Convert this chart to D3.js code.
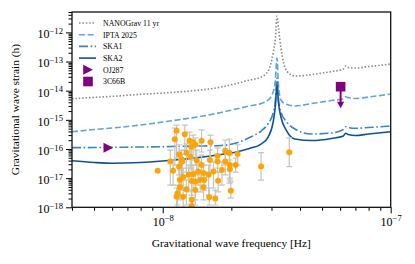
<!DOCTYPE html>
<html>
<head>
<meta charset="utf-8">
<script src="https://cdn.jsdelivr.net/npm/d3@7"></script>
<style>
body { margin: 0; background: #fff; }
svg { display: block; font-family: "Liberation Serif", "DejaVu Serif", serif; }
</style>
</head>
<body>
<div id="chart"></div>
<script>
const width = 415, height = 264
const margin = {top: 12, right: 24.3, bottom: 56.7, left: 72}

// sensitivity curves (frequency in Hz, characteristic strain)
const curveFreq = [4e-9, 5e-9, 6e-9, 8e-9, 1e-8, 1.2e-8, 1.5e-8, 1.8e-8, 2.1e-8, 2.4e-8, 2.7e-8, 2.9e-8,
    3.05e-8, 3.12e-8, 3.17e-8, 3.22e-8, 3.3e-8, 3.5e-8, 3.8e-8, 4.5e-8, 5.5e-8, 6.2e-8, 6.34e-8, 6.5e-8, 7e-8, 8e-8, 1e-7]
const nanograv = [5.29e-15, 5.91e-15, 6.40e-15, 7.49e-15, 8.30e-15, 9.20e-15, 1.08e-14, 1.33e-14, 1.76e-14, 2.32e-14, 2.94e-14, 4.71e-14,
    1.95e-13, 6.38e-13, 3.62e-12, 1.40e-12, 2.89e-13, 4.71e-14, 3.18e-14, 3.57e-14, 4.53e-14, 5.52e-14, 6.99e-14, 6.21e-14, 5.97e-14, 6.72e-14, 8.19e-14]
const ipta = [3.91e-16, 4.65e-16, 5.24e-16, 6.64e-16, 8.41e-16, 1.03e-15, 1.35e-15, 1.78e-15, 2.35e-15, 2.98e-15, 3.62e-15, 4.78e-15,
    8.98e-15, 2.32e-14, 1.32e-13, 1.56e-14, 4.78e-15, 3.35e-15, 2.98e-15, 3.62e-15, 4.59e-15, 5.38e-15, 6.20e-15, 5.82e-15, 5.38e-15, 6.05e-15, 7.67e-15]
const ska1 = [1.11e-16, 1.12e-16, 1.14e-16, 1.17e-16, 1.20e-16, 1.24e-16, 1.27e-16, 1.32e-16, 1.60e-16, 2.47e-16, 4.13e-16, 7.47e-16,
    1.71e-15, 4.41e-15, 2.71e-14, 4.78e-15, 1.85e-15, 8.41e-16, 4.84e-16, 3.26e-16, 3.53e-16, 4.65e-16, 5.81e-16, 5.45e-16, 5.12e-16, 5.45e-16, 6.13e-16]
const ska2 = [3.96e-17, 3.44e-17, 3.23e-17, 3.44e-17, 3.87e-17, 4.36e-17, 5.31e-17, 6.47e-17, 7.88e-17, 1.04e-16, 1.48e-16, 2.57e-16,
    8.41e-16, 2.98e-15, 1.56e-14, 3.77e-15, 1.25e-15, 4.13e-16, 2.20e-16, 1.95e-16, 2.29e-16, 2.79e-16, 3.45e-16, 3.14e-16, 2.90e-16, 3.26e-16, 3.91e-16]

// candidate sources (orange) with error bars, frequency in nHz
const cwFreq = [11.5, 11.3, 12.5, 13.1, 13.6, 14.8, 16.2, 13.9, 13.4, 11.8, 12.7, 13.2, 12.1, 12.2, 10.8, 11.1, 9.5, 11.8, 14.1, 14.8,
    16.1, 17.4, 18.8, 19.6, 21.3, 18.8, 19.7, 20.9, 19.7, 18.2, 17.4, 16.7, 15.9, 15.1, 14.3, 13.6, 13.0, 12.3, 11.9, 13.4,
    13.9, 14.6, 15.2, 17.5, 11.9, 12.7, 13.9, 15.1, 11.6, 12.3, 13.4, 16.0, 17.0, 19.9, 13.4, 11.5, 27.0, 35.9]
const cwStrain = [4.2e-16, 2.15e-16, 3.2e-16, 1.9e-16, 1.7e-16, 1.9e-16, 1.7e-16, 1.4e-16, 1.2e-16, 6.6e-17, 7.5e-17, 5.4e-17, 4.4e-17, 3.7e-17, 3.7e-17, 1.8e-17, 1.8e-17, 2.5e-17, 4.0e-17, 2.8e-17,
    4.2e-17, 5.8e-17, 8.7e-17, 7.5e-17, 6.7e-17, 3.7e-17, 2.8e-17, 2.8e-17, 2.0e-17, 1.9e-17, 3.7e-17, 1.7e-17, 1.3e-17, 1.5e-17, 1.7e-17, 1.4e-17, 1.3e-17, 1.1e-17, 8.6e-18, 8.0e-18,
    7.6e-18, 8.6e-18, 8.6e-18, 8.2e-18, 4.9e-18, 4.2e-18, 3.9e-18, 4.9e-18, 3.0e-18, 2.3e-18, 1.8e-18, 2.2e-18, 2.0e-18, 3.7e-18, 1.1e-18, 2.3e-18, 2.5e-17, 7.7e-17]
const cwHigh = [6.6e-16, 5.2e-16, 6.6e-16, 3.8e-16, 3.0e-16, 4.5e-16, 3.0e-16, 2.4e-16, 2.0e-16, 1.4e-16, 1.5e-16, 1.1e-16, 9.2e-17, 6.7e-17, 9.2e-17, 4.2e-17, 1.8e-17, 4.9e-17, 9.2e-17, 6.2e-17,
    9.2e-17, 1.1e-16, 2.0e-16, 2.2e-16, 1.4e-16, 7.9e-17, 6.2e-17, 4.9e-17, 4.2e-17, 3.6e-17, 6.7e-17, 3.6e-17, 2.8e-17, 2.8e-17, 3.6e-17, 2.8e-17, 2.8e-17, 2.2e-17, 1.9e-17, 1.6e-17,
    1.5e-17, 1.9e-17, 1.6e-17, 1.6e-17, 1.0e-17, 8.6e-18, 8.6e-18, 1.0e-17, 5.8e-18, 4.6e-18, 3.9e-18, 4.6e-18, 3.9e-18, 7.4e-18, 2.1e-18, 4.6e-18, 7.5e-17, 2.4e-16]
const cwLow = [4.9e-17, 2.8e-17, 9.2e-17, 7.9e-17, 4.2e-17, 7.9e-17, 4.2e-17, 2.8e-17, 1.9e-17, 1.3e-17, 1.6e-17, 2.2e-17, 5.8e-18, 8.6e-18, 5.8e-18, 5.8e-18, 1.8e-17, 3.9e-18, 1.3e-17, 8.6e-18,
    1.6e-17, 2.2e-17, 2.8e-17, 6.8e-18, 2.8e-17, 1.3e-17, 1.0e-17, 1.6e-17, 8.6e-18, 5.8e-18, 1.6e-17, 4.6e-18, 2.6e-18, 5.8e-18, 5.8e-18, 3.9e-18, 3.4e-18, 3.9e-18, 2.6e-18, 2.6e-18,
    1.8e-18, 3.4e-18, 3.9e-18, 3.4e-18, 1.8e-18, 1.2e-18, 1.2e-18, 1.8e-18, 1.2e-18, 1.0e-18, 1.0e-18, 1.2e-18, 1.2e-18, 2.1e-18, 1.0e-18, 1.0e-18, 8.6e-18, 2.5e-17]

// known binaries
const oj287 = {freq: 5.77e-9, strain: 1.11e-16}
const c66b = {freq: 6.03e-8, strain: 1.37e-14, limit: 2.5e-15}

const xTicksMajor = [1e-8, 1e-7]
const yTicksMajor = [1e-18, 1e-17, 1e-16, 1e-15, 1e-14, 1e-13, 1e-12]

const series = [
    {name: "NANOGrav 11 yr", values: nanograv, color: "#8a8a8a", dash: "1.5,1.9", width: 1.6},
    {name: "IPTA 2025", values: ipta, color: "#5fa6d8", dash: "6,2.6", width: 1.6},
    {name: "SKA1", values: ska1, color: "#3a84c2", dash: "9,2.6,1.6,2.6", width: 1.6},
    {name: "SKA2", values: ska2, color: "#0d519c", dash: null, width: 1.6}
]
const purple = "#800080", orange = "#ffa500", errColor = "#c4c4c4"

const svg = d3.select("#chart").append("svg")
    .attr("width", width)
    .attr("height", height)

const x = d3.scaleLog().domain([4e-9, 1e-7]).range([margin.left, width - margin.right])
const y = d3.scaleLog().domain([1e-18, 5e-12]).range([height - margin.bottom, margin.top])

svg.append("clipPath").attr("id", "clip")
    .append("rect")
    .attr("x", margin.left).attr("y", margin.top)
    .attr("width", width - margin.left - margin.right)
    .attr("height", height - margin.top - margin.bottom)

// minor ticks: 2..9 of each decade
function minorTicks(lo, hi) {
    let out = []
    for (let e = Math.floor(Math.log10(lo)); e <= Math.ceil(Math.log10(hi)); e++) {
        for (let m = 2; m <= 9; m++) {
            const v = m * Math.pow(10, e)
            if (v >= lo * 0.999 && v <= hi * 1.001) out.push(v)
        }
    }
    return out
}

function supLabel(sel, d) {
    const t = d3.select(sel)
    const ex = Math.round(Math.log10(d))
    t.text("")
    t.append("tspan").text("10")
    t.append("tspan").attr("dy", "-0.5em").attr("font-size", "0.72em").text("\u2212" + Math.abs(ex))
}

const xAxisY = height - margin.bottom
svg.append("g")
    .attr("transform", `translate(0,${xAxisY})`)
    .call(d3.axisBottom(x).tickValues(minorTicks(4e-9, 1e-7)).tickSize(3.5).tickFormat(""))
    .call(g => g.select(".domain").remove())
svg.append("g")
    .attr("transform", `translate(0,${xAxisY})`)
    .call(d3.axisBottom(x).tickValues(xTicksMajor).tickSize(6).tickPadding(4))
    .call(g => g.select(".domain").remove())
    .call(g => g.selectAll(".tick text")
        .attr("font-size", 12).attr("font-family", "Liberation Serif")
        .each(function (d) { supLabel(this, d) }))

svg.append("g")
    .attr("transform", `translate(${margin.left},0)`)
    .call(d3.axisLeft(y).tickValues(minorTicks(1e-18, 5e-12)).tickSize(3.5).tickFormat(""))
    .call(g => g.select(".domain").remove())
svg.append("g")
    .attr("transform", `translate(${margin.left},0)`)
    .call(d3.axisLeft(y).tickValues(yTicksMajor).tickSize(6).tickPadding(3))
    .call(g => g.select(".domain").remove())
    .call(g => g.selectAll(".tick text")
        .attr("font-size", 12).attr("font-family", "Liberation Serif")
        .attr("dy", "0.45em")
        .each(function (d) { supLabel(this, d) }))

// curves
const line = d3.line()
    .x((d, i) => x(curveFreq[i]))
    .y(d => y(d))
    .curve(d3.curveMonotoneX)

const plot = svg.append("g").attr("clip-path", "url(#clip)")

plot.selectAll("path.curve")
    .data(series)
    .enter()
    .append("path")
    .attr("class", "curve")
    .attr("fill", "none")
    .attr("stroke", d => d.color)
    .attr("stroke-width", d => d.width)
    .attr("stroke-dasharray", d => d.dash)
    .attr("d", d => line(d.values))

// error bars + points
const cw = cwFreq.map((f, i) => ({f: f * 1e-9, h: cwStrain[i], lo: cwLow[i], hi: cwHigh[i]}))
const eb = plot.append("g")
    .attr("stroke", errColor)
    .attr("stroke-width", 1.2)
eb.selectAll("line.bar")
    .data(cw.filter(d => d.hi > d.lo))
    .enter().append("line")
    .attr("x1", d => x(d.f)).attr("x2", d => x(d.f))
    .attr("y1", d => y(d.hi)).attr("y2", d => y(d.lo))
eb.selectAll("line.capTop")
    .data(cw.filter(d => d.hi > d.lo))
    .enter().append("line")
    .attr("x1", d => x(d.f) - 3).attr("x2", d => x(d.f) + 3)
    .attr("y1", d => y(d.hi)).attr("y2", d => y(d.hi))
eb.selectAll("line.capBot")
    .data(cw.filter(d => d.hi > d.lo))
    .enter().append("line")
    .attr("x1", d => x(d.f) - 3).attr("x2", d => x(d.f) + 3)
    .attr("y1", d => y(d.lo)).attr("y2", d => y(d.lo))

plot.append("g")
    .selectAll("circle")
    .data(cw)
    .enter().append("circle")
    .attr("cx", d => x(d.f))
    .attr("cy", d => y(d.h))
    .attr("r", 3)
    .attr("fill", orange)

// OJ287
const triPath = "M-4.8,-5L4.9,0L-4.8,5Z"
svg.append("path")
    .attr("d", triPath)
    .attr("fill", purple)
    .attr("transform", `translate(${x(oj287.freq)},${y(oj287.strain)})`)

// 3C66B with upper-limit arrow
const cx = x(c66b.freq)
svg.append("line")
    .attr("x1", cx).attr("x2", cx)
    .attr("y1", y(c66b.strain)).attr("y2", y(c66b.limit) - 5)
    .attr("stroke", purple).attr("stroke-width", 2)
svg.append("path")
    .attr("d", `M${cx - 3.6},${y(c66b.limit) - 6.5}L${cx + 3.6},${y(c66b.limit) - 6.5}L${cx},${y(c66b.limit)}Z`)
    .attr("fill", purple)
svg.append("rect")
    .attr("x", cx - 4.8).attr("y", y(c66b.strain) - 4.8)
    .attr("width", 9.6).attr("height", 9.6)
    .attr("fill", purple)

// frame
svg.append("rect")
    .attr("x", margin.left).attr("y", margin.top)
    .attr("width", width - margin.left - margin.right)
    .attr("height", height - margin.top - margin.bottom)
    .attr("fill", "none")
    .attr("stroke", "#111")
    .attr("stroke-width", 1.3)

// legend
const legend = svg.append("g").attr("font-size", 7.8)
const lx = 79, ly = 23, step = 11.7
series.forEach((s, i) => {
    legend.append("line")
        .attr("x1", lx).attr("x2", lx + 17)
        .attr("y1", ly + i * step).attr("y2", ly + i * step)
        .attr("stroke", s.color).attr("stroke-width", s.width)
        .attr("stroke-dasharray", s.dash)
    legend.append("text")
        .attr("x", lx + 24).attr("y", ly + i * step + 2.8)
        .text(s.name)
})
legend.append("path")
    .attr("d", triPath).attr("fill", purple)
    .attr("transform", `translate(${lx + 9},${ly + 4 * step})`)
legend.append("text").attr("x", lx + 24).attr("y", ly + 4 * step + 2.8).text("OJ287")
legend.append("rect")
    .attr("x", lx + 9 - 4.8).attr("y", ly + 5 * step - 4.8)
    .attr("width", 9.6).attr("height", 9.6).attr("fill", purple)
legend.append("text").attr("x", lx + 24).attr("y", ly + 5 * step + 2.8).text("3C66B")

// axis titles
svg.append("text")
    .attr("x", (margin.left + width - margin.right) / 2)
    .attr("y", 247)
    .attr("text-anchor", "middle")
    .attr("font-size", 11.4)
    .text("Gravitational wave frequency [Hz]")
svg.append("text")
    .attr("transform", `translate(19,${(margin.top + height - margin.bottom) / 2}) rotate(-90)`)
    .attr("text-anchor", "middle")
    .attr("font-size", 11.4)
    .text("Gravitational wave strain (h)")
</script>
</body>
</html>
